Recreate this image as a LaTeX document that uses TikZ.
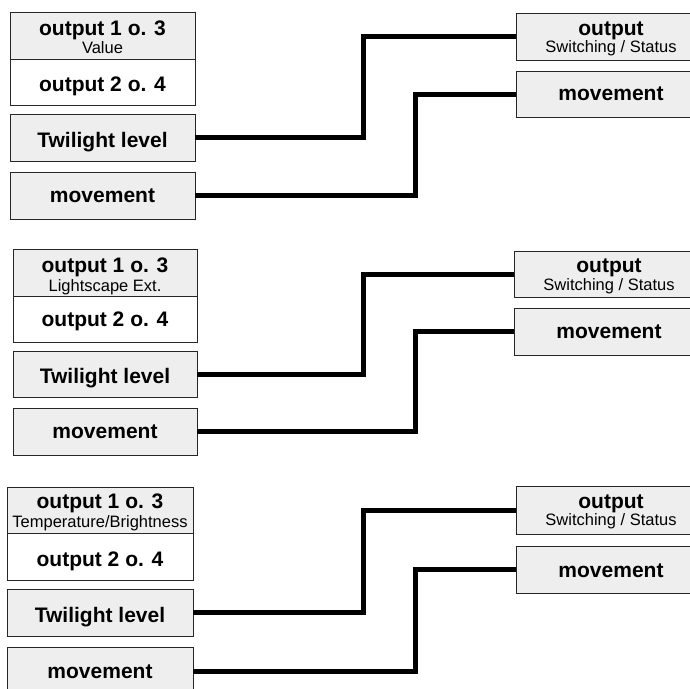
\documentclass[tikz,border=0pt]{standalone}
\usepackage{fontspec}
\setmainfont{Liberation Sans}
\definecolor{boxgrey}{HTML}{EEEEEE}
\tikzset{
  box/.style={draw=black!85, line width=0.9pt, fill=boxgrey, inner sep=0pt, outer sep=0pt, anchor=north west},
  wbox/.style={box, fill=white},
  big/.style={font=\fontsize{21}{21}\selectfont\bfseries, anchor=base, inner sep=0pt},
  small/.style={font=\fontsize{16.5}{16.5}\selectfont, anchor=base, inner sep=0pt},
  wire/.style={line width=5pt, black},
}
\begin{document}
\begin{tikzpicture}[x=1pt,y=-1pt]
\useasboundingbox (0,0) rectangle (690,688);
\clip (0,0) rectangle (690,688);
\coordinate (ka) at (363,0);
\coordinate (kb) at (415,0);
% ---------- group 1
\node[box, minimum width=185pt, minimum height=47pt] (g1a) at (10,12) {};
\node[wbox, minimum width=185pt, minimum height=46pt] (g1b) at (10,59) {};
\node[box, minimum width=185pt, minimum height=47pt] (g1t) at (10,114) {};
\node[box, minimum width=185pt, minimum height=47pt] (g1m) at (10,172) {};
\node[box, minimum width=190pt, minimum height=47pt] (g1o) at (516,13) {};
\node[box, minimum width=190pt, minimum height=46pt] (g1r) at (516,71) {};
\node[big] (t1a) at (102.5,35) {output 1 o. 3};
\node[small] (t1a2) at (102.5,53) {Value};
\node[big] (t1b) at (102.5,91) {output 2 o. 4};
\node[big] (t1t) at (102.5,147) {Twilight level};
\node[big] (t1m) at (102.5,202) {movement};
\node[big] (t1o) at (611,35) {output};
\node[small] (t1o2) at (611,52) {Switching / Status};
\node[big] (t1r) at (611,100) {movement};
\draw[wire] (g1t.east) -- (g1t.east -| ka) |- (g1o.west);
\draw[wire] (g1m.east) -- (g1m.east -| kb) |- (g1r.west);
% ---------- group 2
\node[box, minimum width=184pt, minimum height=47pt] (g2a) at (13,249) {};
\node[wbox, minimum width=184pt, minimum height=46pt] (g2b) at (13,296) {};
\node[box, minimum width=184pt, minimum height=46pt] (g2t) at (13,351) {};
\node[box, minimum width=184pt, minimum height=47pt] (g2m) at (13,408) {};
\node[box, minimum width=190pt, minimum height=46pt] (g2o) at (514,251) {};
\node[box, minimum width=190pt, minimum height=47pt] (g2r) at (514,308) {};
\node[big] (t2a) at (105,272) {output 1 o. 3};
\node[small] (t2a2) at (105,291) {Lightscape Ext.};
\node[big] (t2b) at (105,326) {output 2 o. 4};
\node[big] (t2t) at (105,383) {Twilight level};
\node[big] (t2m) at (105,438) {movement};
\node[big] (t2o) at (609,272) {output};
\node[small] (t2o2) at (609,290) {Switching / Status};
\node[big] (t2r) at (609,338) {movement};
\draw[wire] (g2t.east) -- (g2t.east -| ka) |- (g2o.west);
\draw[wire] (g2m.east) -- (g2m.east -| kb) |- (g2r.west);
% ---------- group 3
\node[box, minimum width=186pt, minimum height=46pt] (g3a) at (7,487) {};
\node[wbox, minimum width=186pt, minimum height=47pt] (g3b) at (7,533) {};
\node[box, minimum width=186pt, minimum height=47pt] (g3t) at (7,589) {};
\node[box, minimum width=186pt, minimum height=48pt] (g3m) at (7,647) {};
\node[box, minimum width=190pt, minimum height=48pt] (g3o) at (516,486) {};
\node[box, minimum width=190pt, minimum height=47pt] (g3r) at (516,546) {};
\node[big] (t3a) at (100,508) {output 1 o. 3};
\node[small] (t3a2) at (100,527) {Temperature/Brightness};
\node[big] (t3b) at (100,566) {output 2 o. 4};
\node[big] (t3t) at (100,622) {Twilight level};
\node[big] (t3m) at (100,678) {movement};
\node[big] (t3o) at (611,508) {output};
\node[small] (t3o2) at (611,525) {Switching / Status};
\node[big] (t3r) at (611,577) {movement};
\draw[wire] (g3t.east) -- (g3t.east -| ka) |- (g3o.west);
\draw[wire] (g3m.east) -- (g3m.east -| kb) |- (g3r.west);
\end{tikzpicture}
\end{document}
